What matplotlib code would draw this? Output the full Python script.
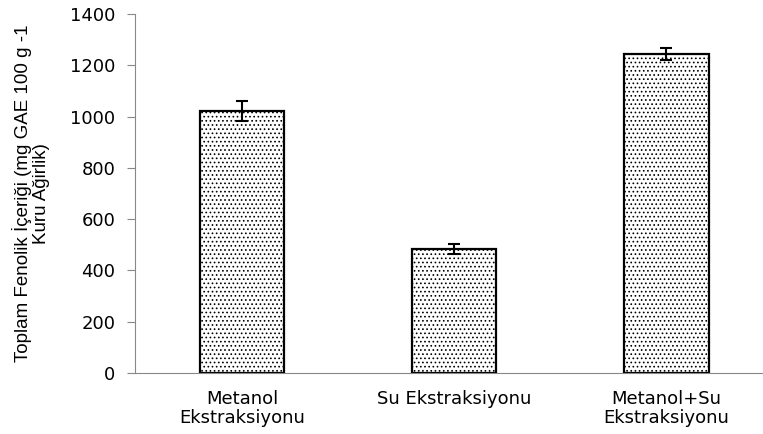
import matplotlib.pyplot as plt

# Data
categories = ['Metanol\nEkstraksiyonu', 'Su Ekstraksiyonu', 'Metanol+Su\nEkstraksiyonu']
values = [1022, 484, 1244]
errors = [40, 20, 22]

plt.rcParams['font.family'] = 'DejaVu Sans'
plt.rcParams['hatch.color'] = '#333333'
plt.rcParams['hatch.linewidth'] = 0.7

fig = plt.figure(figsize=(7.63, 4.34), dpi=100)
ax = fig.add_axes([135 / 763, 1 - 373 / 434, 628 / 763, 359 / 434])

x = range(len(categories))
ax.bar(x, values, width=0.4, color='white', edgecolor='black', linewidth=1.6,
       hatch='....', zorder=2)
ax.errorbar(x, values, yerr=errors, fmt='none', ecolor='black', elinewidth=1.5,
            capsize=4, capthick=1.5, zorder=3)

ax.set_ylim(0, 1400)
ax.set_xlim(-0.505, 2.457)
ax.set_yticks(range(0, 1401, 200))
ax.set_xticks(list(x))
ax.set_xticklabels(categories, fontsize=13, linespacing=1.1)
ax.tick_params(axis='x', length=0, pad=12)
ax.tick_params(axis='y', labelsize=13, length=6, color='#888888', direction='out', pad=8)

for s in ['top', 'right']:
    ax.spines[s].set_visible(False)
ax.spines['left'].set_color('#888888')
ax.spines['bottom'].set_color('#888888')

ax.set_ylabel('Toplam Fenolik İçeriği (mg GAE 100 g -1\nKuru Ağirlik)',
              fontsize=13.5, family='Liberation Sans', linespacing=1.1)
ax.yaxis.set_label_coords(-0.135, 0.5)

fig.savefig('out.png', dpi=100)
plt.close()
